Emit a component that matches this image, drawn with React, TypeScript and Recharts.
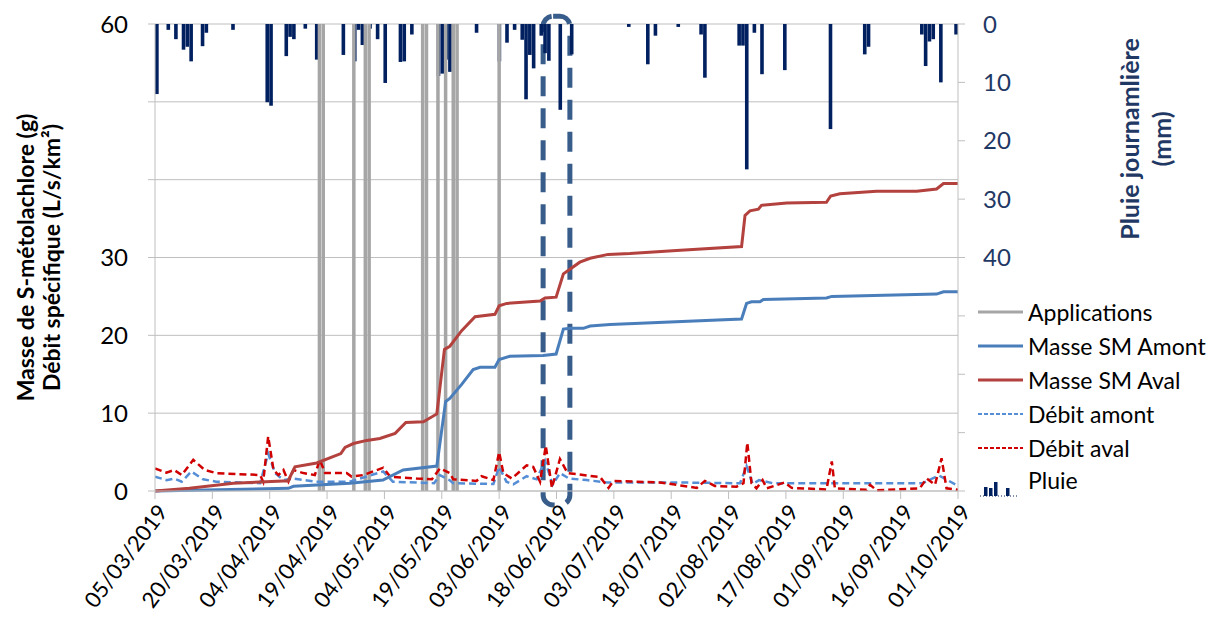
import React from "react";
import {
  ComposedChart,
  Bar,
  Line,
  XAxis,
  YAxis,
  CartesianGrid,
  ReferenceLine,
  ReferenceArea,
  Label,
} from "recharts";

// day 0 = 05/03/2019, day 210 = 01/10/2019
const START = new Date(2019, 2, 5);
const dateTicks = [0, 15, 30, 45, 60, 75, 90, 105, 120, 135, 150, 165, 180, 195, 210];
const leftTicks = [0, 10, 20, 30, 40, 50, 60];
const rainTicks = [0, 10, 20, 30, 40, 50, 60, 70, 80];

// daily rain (mm), only the days with rain
const rainDays = [
  0, 3, 5, 7, 8, 9, 12, 13, 20, 29, 30, 34, 35, 36, 39, 42, 49, 52, 53, 54, 56, 58, 60, 64, 65, 67,
  74, 75, 76, 77, 84, 90, 92, 94, 96, 97, 98, 99, 101, 102, 103, 106, 109, 124, 129, 131, 137, 143,
  144, 153, 154, 155, 157, 159, 165, 177, 186, 187, 201, 202, 203, 204, 206, 210,
];
const rainMm = [
  12, 1, 2.6, 4.4, 3.9, 6.4, 3.8, 1.5, 1, 13.4, 14, 5.5, 2.2, 2.6, 0.8, 6.1, 5.3, 6.4, 1, 3.6, 0.8, 2.6,
  10.1, 6.5, 6.4, 1.8, 8.9, 8.5, 6.1, 8.2, 1.5, 6.4, 3.2, 1, 2.7, 12.9, 5.3, 7.6, 2, 5, 6.3, 14.7, 5.2,
  0.5, 6.9, 2, 0.5, 1.8, 9.2, 3.7, 3.7, 24.9, 1.5, 8.6, 7.9, 18, 5.2, 3.9, 1.8, 7.2, 3, 2.6, 10, 1.8,
];

// application dates (day index)
const applicationDays = [43, 44, 52, 55, 56, 70, 71, 74, 76, 78, 79, 90];

// [day, value]
const masseAval: [number, number][] = [
  [0, 0], [9, 0.35], [20.5, 1.0], [33.5, 1.3], [34.8, 1.3], [36.6, 3.1], [42.3, 3.6], [48.6, 4.8],
  [49.7, 5.6], [51.9, 6.1], [55.4, 6.5], [58.8, 6.75], [62.8, 7.4], [65.6, 8.8], [70.2, 8.9],
  [73.7, 9.9], [75.7, 18.2], [77.1, 18.6], [80.2, 20.6], [83.7, 22.4], [88.9, 22.7], [90, 23.8],
  [92, 24.1], [100.7, 24.4], [102, 24.8], [104.9, 24.9], [106.8, 27.9], [108.5, 28.5], [111.1, 29.4],
  [113.8, 29.9], [118.5, 30.4], [124.2, 30.5], [136.4, 30.9], [153.4, 31.4], [154.3, 35.4],
  [155.6, 36.0], [157.8, 36.2], [158.6, 36.7], [165.2, 37.0], [175.6, 37.1], [176.7, 37.9],
  [179.1, 38.2], [188.7, 38.5], [199.2, 38.5], [204.4, 38.8], [206.2, 39.5], [210, 39.5],
];
const masseAmont: [number, number][] = [
  [0, 0], [34.9, 0.35], [36.2, 0.6], [51, 1.0], [59.6, 1.4], [64.9, 2.7], [73.7, 3.2], [76, 11.5],
  [77.1, 11.9], [80.2, 13.7], [83.2, 15.6], [85, 15.9], [88.9, 15.9], [90, 16.9], [92.8, 17.3],
  [101.5, 17.4], [104.9, 17.6], [106.8, 20.8], [108.5, 20.9], [112, 20.9], [113.8, 21.2], [119, 21.4],
  [153.4, 22.1], [154.7, 24.1], [156, 24.3], [158.2, 24.3], [159.1, 24.6], [175.6, 24.8], [177, 25.0],
  [204.4, 25.3], [206.2, 25.6], [210, 25.6],
];
const debitAval: [number, number][] = [
  [0, 2.9], [3, 2.35], [5, 2.7], [7, 2.05], [10, 4.0], [13, 2.7], [16, 2.3], [27.5, 2.05], [28.3, 1.2],
  [29.6, 7.0], [31, 2.7], [32.3, 2.05], [33.6, 2.7], [34.9, 1.2], [36.2, 2.7], [38.8, 2.3], [41.8, 2.05],
  [43.1, 4.0], [44.5, 2.3], [50.1, 2.3], [51.4, 1.85], [54.5, 2.05], [59.7, 3.0], [61.5, 1.85],
  [68.4, 1.6], [72.4, 1.5], [74.5, 2.9], [77.1, 2.3], [78, 1.5], [84.1, 1.3], [85.4, 1.9], [88.5, 1.4],
  [90, 5.0], [91.1, 2.3], [93.3, 1.6], [97.2, 3.3], [98.9, 3.1], [100.7, 1.2], [102.2, 5.8],
  [103.8, 0.4], [105.9, 4.1], [107.9, 2.3], [112.9, 2.0], [116.4, 1.8], [118.6, 0.4], [119.9, 1.3],
  [132.1, 1.1], [141.7, 0.4], [143.8, 1.3], [146.4, 0.65], [152.1, 0.55], [153.9, 1.0], [154.9, 6.2],
  [156, 1.0], [157.3, 0.35], [158.9, 1.4], [160, 0.35], [164.7, 1.1], [166.5, 0.4], [175.6, 0.2],
  [177, 3.8], [177.8, 0.35], [186.1, 0.15], [187, 0.8], [188.7, 0.1], [200, 0.35], [201.8, 1.6],
  [204, 0.8], [205.7, 4.2], [207, 0.35], [210, 0.15],
];
const debitAmont: [number, number][] = [
  [0, 1.85], [3, 1.4], [5, 1.6], [7, 1.2], [9.5, 2.5], [12.6, 1.5], [16, 1.2], [27.5, 1.0], [29.6, 4.8],
  [31.4, 2.3], [33.6, 1.4], [36.2, 1.6], [42, 1.2], [50.8, 1.2], [59.7, 2.5], [62.2, 1.2], [73, 1.0],
  [74.5, 2.05], [77, 1.4], [78, 1.0], [88.5, 0.9], [90, 3.1], [91.9, 1.2], [93.7, 0.85], [97.2, 1.9],
  [99.8, 1.5], [102, 3.9], [104, 0.8], [105.9, 2.3], [108.3, 1.6], [112.9, 1.4], [118.2, 1.1],
  [135.6, 1.1], [153, 1.0], [154.7, 3.2], [156.3, 0.9], [158, 1.4], [161.5, 1.0], [178.9, 1.0],
  [200.7, 1.0], [205, 2.0], [209.5, 0.8], [210, 0.8],
];

const FONT = "Lato, 'Open Sans', sans-serif";
const NAVY = "#1F3864";
const RAIN = "#002060";
const GREY = "#A6A6A6";
const C_AMONT = "#4A7EBB";
const C_AVAL = "#B3413E";
const C_DEB_AMONT = "#558ED5";
const C_DEB_AVAL = "#D00000";

const rainTable = Array.from({ length: 211 }, (_, d) => {
  const i = rainDays.indexOf(d);
  return { day: d, rain: i >= 0 ? rainMm[i] : 0 };
});
const toPts = (arr: [number, number][]) => arr.map(([day, v]) => ({ day, v }));

const fmtDate = (d: number) => {
  const dt = new Date(START.getTime());
  dt.setDate(dt.getDate() + d);
  const dd = String(dt.getDate()).padStart(2, "0");
  const mm = String(dt.getMonth() + 1).padStart(2, "0");
  return `${dd}/${mm}/${dt.getFullYear()}`;
};

const DateTick = ({ x, y, payload }: any) => (
  <text
    x={x + 7}
    y={y + 6}
    transform={`rotate(-53 ${x + 7} ${y + 6})`}
    textAnchor="end"
    dominantBaseline="central"
    fontSize={22}
    fontFamily={FONT}
    fill="#000"
  >
    {fmtDate(payload.value)}
  </text>
);

// small daily tick marks on the top (rain) axis
const DayTick = ({ x, y }: any) => (
  <line x1={x} x2={x} y1={y + 2} y2={y + 10} stroke="#000" strokeWidth={1} />
);

const RainBar = (p: any) => {
  const top = Math.min(p.y, p.y + p.height);
  const h = Math.abs(p.height);
  if (!h) return null;
  return <rect x={p.x + p.width / 2 - 1.8} y={top} width={3.6} height={h} fill={RAIN} />;
};

const legendItems = [
  { name: "Applications", color: GREY, dash: undefined, w: 3 },
  { name: "Masse SM Amont", color: C_AMONT, dash: undefined, w: 3 },
  { name: "Masse SM Aval", color: C_AVAL, dash: undefined, w: 3 },
  { name: "Débit amont", color: C_DEB_AMONT, dash: "4 2", w: 2 },
  { name: "Débit aval", color: C_DEB_AVAL, dash: "4 2", w: 2 },
];

const LegendBox = () => (
  <svg width={240} height={220} style={{ fontFamily: FONT, display: "block" }}>
    {legendItems.map((it, i) => (
      <g key={it.name} transform={`translate(0 ${17 + i * 34})`}>
        <line x1={3} x2={48} y1={0} y2={0} stroke={it.color} strokeWidth={it.w} strokeDasharray={it.dash} />
        <text x={53} y={0} dominantBaseline="central" fontSize={23} fill="#000">
          {it.name}
        </text>
      </g>
    ))}
    <g transform={`translate(0 ${17 + 5 * 34})`}>
      {[
        [9, 9],
        [14, 8],
        [19, 14],
        [31, 8],
      ].map(([bx, h]) => (
        <rect key={bx} x={bx} y={14 - h} width={3.5} height={h} fill={RAIN} />
      ))}
      <line x1={5} x2={44} y1={14} y2={14} stroke={RAIN} strokeWidth={1} strokeDasharray="1 2" />
      <text x={53} y={-2} dominantBaseline="central" fontSize={23} fill="#000">
        Pluie
      </text>
    </g>
  </svg>
);

const LeftTitle = ({ viewBox }: any) => {
  const cx = 40;
  const cy = viewBox.y + viewBox.height / 2;
  return (
    <text
      transform={`translate(${cx} ${cy}) rotate(-90)`}
      textAnchor="middle"
      fontSize={23}
      fontWeight="bold"
      fontFamily={FONT}
      fill="#000"
    >
      <tspan x={0} dy={-6}>Masse de S-métolachlore (g)</tspan>
      <tspan x={0} dy={26}>Débit spécifique (L/s/km²)</tspan>
    </text>
  );
};

const RightTitle = ({ viewBox }: any) => {
  const cx = viewBox.x + 187;
  const cy = viewBox.y + 115;
  return (
    <text
      transform={`translate(${cx} ${cy}) rotate(-90)`}
      textAnchor="middle"
      fontSize={25}
      fontWeight="bold"
      fontFamily={FONT}
      fill={NAVY}
    >
      <tspan x={0} dy={-6}>Pluie  journamlière</tspan>
      <tspan x={0} dy={32}>(mm)</tspan>
    </text>
  );
};

const topTicks = Array.from({ length: 210 }, (_, i) => i + 0.5);

export default function App() {
  return (
    <div style={{ position: "absolute", left: 0, top: 0, width: 1228, height: 623, background: "#fff" }}>
      <ComposedChart
        width={1228}
        height={623}
        data={rainTable}
        margin={{ top: 24, right: 210, bottom: 0, left: 0 }}
      >
        <CartesianGrid vertical={false} stroke="#BFBFBF" yAxisId="left" />
        <XAxis
          dataKey="day"
          type="number"
          domain={[0, 210]}
          ticks={dateTicks}
          allowDataOverflow
          height={132}
          interval={0}
          tick={<DateTick />}
          tickSize={8}
          stroke="#BFBFBF"
        />
        <XAxis
          xAxisId="top"
          orientation="top"
          type="number"
          dataKey="day"
          domain={[-0.5, 210.5]}
          ticks={topTicks}
          interval={0}
          tick={<DayTick />}
          tickLine={false}
          tickSize={4}
          axisLine={{ stroke: "#BFBFBF", strokeWidth: 2 }}
          height={0}
        />
        <YAxis
          yAxisId="left"
          domain={[0, 60]}
          ticks={leftTicks}
          interval={0}
          width={155}
          tickSize={7}
          tickMargin={20}
          stroke="#BFBFBF"
          tick={{ fill: "#000", fontSize: 24, fontFamily: FONT }}
          tickFormatter={(v: number) => (v === 40 || v === 50 ? "" : String(v))}
        >
          <Label content={<LeftTitle />} />
        </YAxis>
        <YAxis
          yAxisId="rain"
          orientation="right"
          reversed
          domain={[0, 80]}
          ticks={rainTicks}
          interval={0}
          width={60}
          tickSize={7}
          tickMargin={18}
          stroke="#BFBFBF"
          tick={{ fill: NAVY, fontSize: 24, fontFamily: FONT }}
          tickFormatter={(v: number) => (v > 40 ? "" : String(v))}
        >
          <Label content={<RightTitle />} />
        </YAxis>

        {applicationDays.map((d) => (
          <ReferenceLine key={d} x={d} yAxisId="left" stroke={GREY} strokeWidth={3.5} />
        ))}

        <Bar
          dataKey="rain"
          xAxisId="top"
          yAxisId="rain"
          fill={RAIN}
          shape={<RainBar />}
          isAnimationActive={false}
        />

        <Line
          data={toPts(debitAmont)}
          dataKey="v"
          yAxisId="left"
          stroke={C_DEB_AMONT}
          strokeWidth={2.5}
          strokeDasharray="7 4"
          dot={false}
          isAnimationActive={false}
        />
        <Line
          data={toPts(debitAval)}
          dataKey="v"
          yAxisId="left"
          stroke={C_DEB_AVAL}
          strokeWidth={2.5}
          strokeDasharray="7 4"
          dot={false}
          isAnimationActive={false}
        />
        <Line
          data={toPts(masseAmont)}
          dataKey="v"
          yAxisId="left"
          stroke={C_AMONT}
          strokeWidth={3}
          dot={false}
          isAnimationActive={false}
        />
        <Line
          data={toPts(masseAval)}
          dataKey="v"
          yAxisId="left"
          stroke={C_AVAL}
          strokeWidth={3}
          dot={false}
          isAnimationActive={false}
        />

        <ReferenceArea
          x1={101.5}
          x2={108.5}
          y1={-1.8}
          y2={61}
          yAxisId="left"
          ifOverflow="visible"
          shape={(p: any) => (
            <rect
              x={p.x}
              y={p.y}
              width={p.width}
              height={p.height}
              rx={10}
              fill="none"
              stroke="#385D8A"
              strokeWidth={5}
              strokeDasharray="20 12"
            />
          )}
        />
      </ComposedChart>
      <div style={{ position: "absolute", left: 975, top: 295 }}>
        <LegendBox />
      </div>
    </div>
  );
}
